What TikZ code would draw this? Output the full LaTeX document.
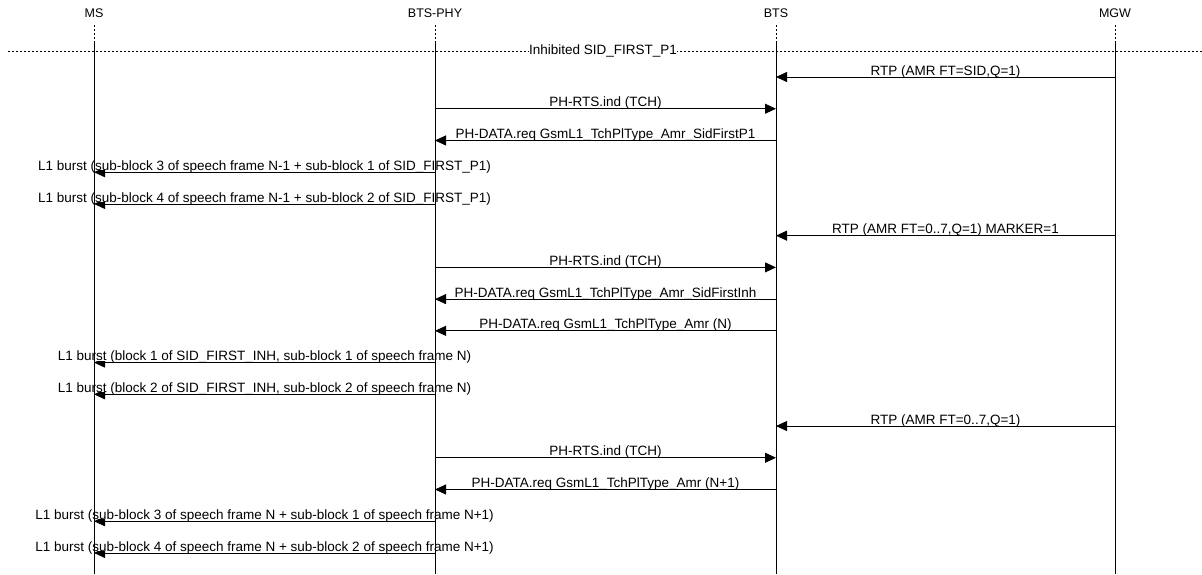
\documentclass[tikz,border=0pt]{standalone}
\usepackage{fontspec}
\setmainfont{Liberation Sans}
\usetikzlibrary{arrows.meta}

\begin{document}
\begin{tikzpicture}[x=1pt,y=-1pt,
  ent/.style={font=\fontsize{12.5}{15}\selectfont, inner sep=0pt},
  msg/.style={line width=0.8pt, -{Triangle[length=11pt,width=10pt]}},
  lbl/.style={font=\fontsize{13.5}{15}\selectfont, fill=white, anchor=south,
    inner xsep=1pt, inner ysep=0pt, text depth=0pt, yshift=1.5pt},
  life/.style={line width=0.8pt}]
\useasboundingbox (0,0) rectangle (1202,574);

% entities
\node[ent] (ms) at (94,13) {MS};
\node[ent] (btsphy) at (435,13) {BTS-PHY};
\node[ent] (bts) at (776,13) {BTS};
\node[ent] (mgw) at (1115,13) {MGW};

% rows
\coordinate (top) at (0,25);
\coordinate (solid) at (0,43);
\coordinate (bot) at (0,574);
\foreach \i in {1,...,16}
  \coordinate (r\i) at (0,{77+(\i-1)*31.73});

% separator
\coordinate (sepl) at (8,51);
\coordinate (sepr) at (1202,51);
\draw[line width=0.8pt, dash pattern=on 2pt off 2pt] (sepl) -- (sepr);
\node[font=\fontsize{13.5}{15}\selectfont, fill=white, inner xsep=0.3pt, inner ysep=1pt] (inh) at (603,51) {Inhibited SID\_FIRST\_P1};

% messages
\draw[msg] (mgw |- r1) -- (bts |- r1) node[midway,lbl] {RTP (AMR FT=SID,Q=1)};
\draw[msg] (btsphy |- r2) -- (bts |- r2) node[midway,lbl] {PH-RTS.ind (TCH)};
\draw[msg] (bts |- r3) -- (btsphy |- r3) node[midway,lbl] {PH-DATA.req GsmL1\_TchPlType\_Amr\_SidFirstP1};
\draw[msg] (btsphy |- r4) -- (ms |- r4) node[midway,lbl] {L1 burst (sub-block 3 of speech frame N-1 + sub-block 1 of SID\_FIRST\_P1)};
\draw[msg] (btsphy |- r5) -- (ms |- r5) node[midway,lbl] {L1 burst (sub-block 4 of speech frame N-1 + sub-block 2 of SID\_FIRST\_P1)};
\draw[msg] (mgw |- r6) -- (bts |- r6) node[midway,lbl] {RTP (AMR FT=0..7,Q=1) MARKER=1};
\draw[msg] (btsphy |- r7) -- (bts |- r7) node[midway,lbl] {PH-RTS.ind (TCH)};
\draw[msg] (bts |- r8) -- (btsphy |- r8) node[midway,lbl] {PH-DATA.req GsmL1\_TchPlType\_Amr\_SidFirstInh};
\draw[msg] (bts |- r9) -- (btsphy |- r9) node[midway,lbl] {PH-DATA.req GsmL1\_TchPlType\_Amr (N)};
\draw[msg] (btsphy |- r10) -- (ms |- r10) node[midway,lbl] {L1 burst (block 1 of SID\_FIRST\_INH, sub-block 1 of speech frame N)};
\draw[msg] (btsphy |- r11) -- (ms |- r11) node[midway,lbl] {L1 burst (block 2 of SID\_FIRST\_INH, sub-block 2 of speech frame N)};
\draw[msg] (mgw |- r12) -- (bts |- r12) node[midway,lbl] {RTP (AMR FT=0..7,Q=1)};
\draw[msg] (btsphy |- r13) -- (bts |- r13) node[midway,lbl] {PH-RTS.ind (TCH)};
\draw[msg] (bts |- r14) -- (btsphy |- r14) node[midway,lbl] {PH-DATA.req GsmL1\_TchPlType\_Amr (N+1)};
\draw[msg] (btsphy |- r15) -- (ms |- r15) node[midway,lbl] {L1 burst (sub-block 3 of speech frame N + sub-block 1 of speech frame N+1)};
\draw[msg] (btsphy |- r16) -- (ms |- r16) node[midway,lbl] {L1 burst (sub-block 4 of speech frame N + sub-block 2 of speech frame N+1)};

% lifelines on top
\foreach \e in {ms,btsphy,bts,mgw} {
  \draw[life, dash pattern=on 2pt off 2pt] (\e |- top) -- (\e |- solid);
  \draw[life] (\e |- solid) -- (\e |- bot);
}
\end{tikzpicture}
\end{document}
